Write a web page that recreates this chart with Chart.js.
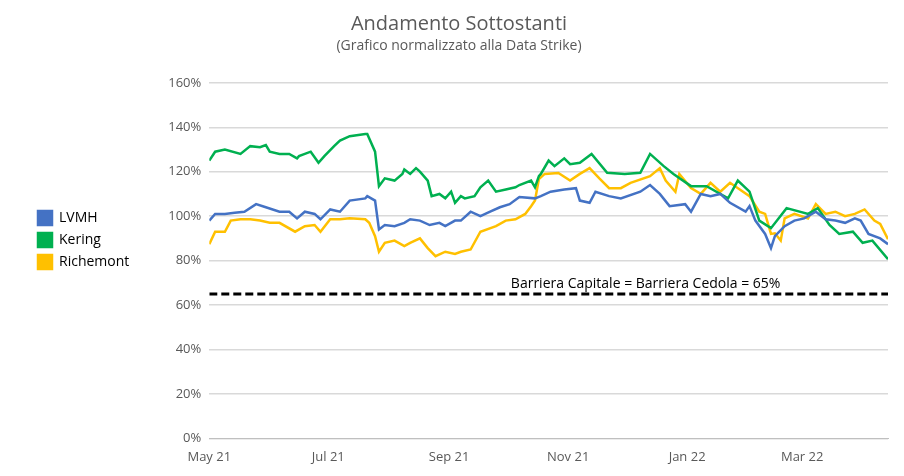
<!DOCTYPE html>
<html><head><meta charset="utf-8">
<script src="https://cdn.jsdelivr.net/npm/chart.js@4"></script>
<style>body{margin:0;background:#fff}#w{width:904px;height:476px}</style></head>
<body><div id="w"><canvas id="c"></canvas></div>
<script>
const tickDays = [0, 61, 123, 184, 245, 304];
const tickLabels = ['May 21', 'Jul 21', 'Sep 21', 'Nov 21', 'Jan 22', 'Mar 22'];
const lvmh = [[0,98],[3,101],[8,101],[13,101.5],[18,102],[24,105.4],[29,104],[36,102],[41,102],[45,99],[49,102],[54,101],[57,98.6],[62,103],[67,102],[72,107],[80,108],[81,109],[85,107],[87,94],[90,96],[95,95.5],[100,97],[103,98.6],[108,98],[113,96],[118,97],[121,95.5],[126,98],[129,98],[134,102],[139,100],[144,102],[149,104],[154,105.4],[159,108.6],[167,108],[170,109],[175,111],[182,112],[188,112.6],[190,107],[195,106],[198,111],[205,109],[211,108],[221,111],[226,114],[231,110],[236,104.5],[244,105.4],[247,102],[252,110],[257,109],[262,110],[267,106],[275,102],[277,104.5],[280,98],[285,92],[288,85.6],[290,91],[295,95.5],[300,98],[305,99],[311,102],[316,98.6],[321,98],[326,97],[331,99],[334,98],[338,92],[344,90],[348,87.4]];
const kering = [[0,125],[3,129],[8,130],[16,128],[21,131.5],[26,131],[29,132],[31,129],[36,128],[41,128],[45,126],[46,127],[52,129],[56,124],[59,127],[64,131.5],[67,134],[72,136],[80,137],[81,137],[85,129],[87,113.5],[90,117],[95,116],[99,119],[100,121],[103,119],[106,121.6],[108,120],[112,116],[114,109],[118,110],[121,108],[124,111],[126,106],[129,109],[131,108],[136,109],[139,113],[143,116],[147,111],[152,112],[157,113],[159,114],[165,116],[167,113],[169,118],[170,119],[174,125],[177,122.5],[182,126],[185,123.4],[190,124],[196,128],[204,119.5],[213,119],[221,119.5],[226,128],[233,122.5],[238,119],[247,113.5],[255,113.5],[266,108],[271,116],[277,111],[282,98],[288,94.6],[296,103.6],[307,101],[312,103.6],[318,96],[323,92],[330,93],[335,88],[340,89],[348,80.6]];
const richemont = [[0,87.4],[3,93],[8,93],[11,98],[16,98.6],[21,98.6],[26,98],[31,97],[36,97],[44,93],[49,95.5],[54,96],[57,93],[62,98.6],[67,98.6],[72,99],[80,98.6],[82,97],[85,91],[87,84],[90,88],[95,89],[100,86.5],[103,88],[108,90],[112,85.6],[116,82],[121,84],[126,83],[129,84],[134,85],[139,93],[147,95.5],[152,98],[157,98.6],[162,101],[165,104.5],[167,107],[169,116.7],[172,119],[179,119.4],[185,116],[190,119],[195,121.6],[200,117],[205,112.6],[211,112.6],[216,115],[226,118],[231,121.6],[234,116],[239,111],[241,119],[247,112.6],[252,110],[257,115],[262,111],[267,115],[272,112],[277,109],[282,102],[285,101],[288,92],[290,92.3],[293,89],[295,99],[300,101],[307,99],[311,105.4],[316,101],[321,102],[326,100],[331,101],[336,103],[341,98],[344,96.5],[348,89.6]];
const barrierValue = 65;
const barrierText = 'Barriera Capitale = Barriera Cedola = 65%';
const toPts = a => a.map(p => ({x: p[0], y: p[1]}));
Chart.defaults.font.family = "'Open Sans', sans-serif";
Chart.defaults.color = '#595959';
new Chart(document.getElementById('c'), {
  type: 'line',
  data: { datasets: [
    {label:'LVMH', data: toPts(lvmh), borderColor:'#4472C4', backgroundColor:'#4472C4', borderWidth:2.5, pointRadius:0, tension:0},
    {label:'Kering', data: toPts(kering), borderColor:'#00B050', backgroundColor:'#00B050', borderWidth:2.5, pointRadius:0, tension:0},
    {label:'Richemont', data: toPts(richemont), borderColor:'#FFC000', backgroundColor:'#FFC000', borderWidth:2.5, pointRadius:0, tension:0},
    {label:'barrier', data:[{x:0,y:barrierValue},{x:348,y:barrierValue}], borderColor:'#000', borderWidth:3, borderDash:[8,4], pointRadius:0}
  ]},
  options: {
    responsive:true, maintainAspectRatio:false, animation:false,
    layout:{padding:{left:30,right:16,top:12,bottom:8}},
    plugins:{
      title:{display:true,text:'Andamento Sottostanti',color:'#595959',font:{size:20,weight:'normal'},padding:{top:0,bottom:2}},
      subtitle:{display:true,text:'(Grafico normalizzato alla Data Strike)',color:'#595959',font:{size:14},padding:{bottom:28}},
      legend:{position:'left',align:'center',labels:{filter:i=>i.text!=='barrier',boxWidth:14,boxHeight:14,color:'#000',font:{size:14},padding:8}},
      tooltip:{enabled:false}
    },
    scales:{
      x:{type:'linear',min:0,max:348,
        afterBuildTicks:s=>{s.ticks=tickDays.map(v=>({value:v}));},
        ticks:{callback:(v)=>tickLabels[tickDays.indexOf(v)],maxRotation:0,autoSkip:false,font:{size:13},color:'#595959'},
        grid:{display:false,drawTicks:true},border:{color:'#bfbfbf'}},
      y:{min:0,max:160,ticks:{stepSize:20,callback:v=>v+'%',font:{size:13},color:'#595959',padding:8},
        afterFit:s=>{s.width=70;},
        grid:{color:'#d9d9d9',lineWidth:1.5,drawTicks:false},border:{display:false}}
    }
  },
  plugins:[{id:'lbl',afterDatasetsDraw(ch){const c=ch.ctx,xs=ch.scales.x,ys=ch.scales.y;c.save();c.font="14px 'Open Sans', sans-serif";c.fillStyle='#000';c.textAlign='center';c.textBaseline='bottom';c.fillText(barrierText,(xs.left+xs.right)/2+97,ys.getPixelForValue(barrierValue)-3);c.restore();}}]
});
</script></body></html>
